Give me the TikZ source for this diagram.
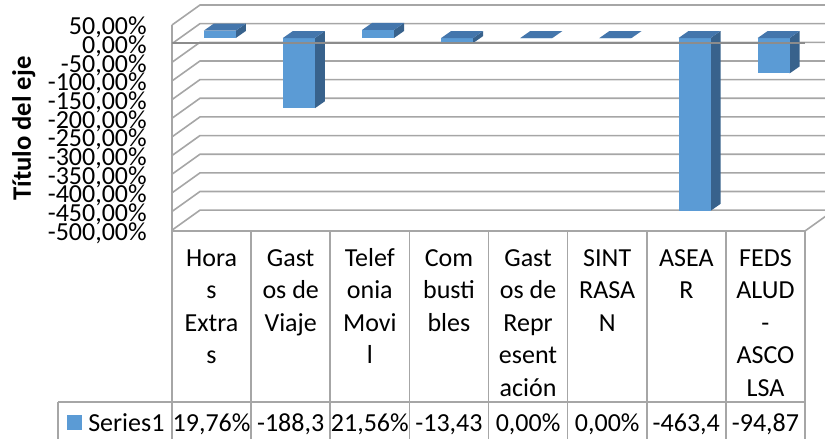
\documentclass[tikz,border=0pt]{standalone}
\usepackage{fontspec}
\setmainfont{Carlito}
\definecolor{gridc}{RGB}{166,166,166}
\definecolor{zeroc}{RGB}{140,140,140}
\definecolor{barfront}{RGB}{91,155,213}
\definecolor{bartop}{RGB}{68,118,172}
\definecolor{barside}{RGB}{56,98,140}
\tikzset{
  gridline/.style={draw=gridc,line width=1.2pt},
  zeroline/.style={draw=zeroc,line width=1.9pt},
  tabline/.style={draw=gridc,line width=1.2pt},
  txt/.style={font=\fontsize{19.5}{23}\selectfont,inner sep=0pt,text=black},
  hdtext/.style={txt,anchor=base},
  axlabel/.style={txt,anchor=base east},
}
\newcommand\colbar[2]{%
  \pgfmathsetmacro\xl{172+79.125*#1+31.8}%
  \pgfmathsetmacro\xr{\xl+32}%
  \pgfmathsetmacro\yv{38-0.373*#2}%
  \pgfmathsetmacro\ytop{min(38,\yv)}%
  \fill[barside] (\xr,38) -- (\xr,\yv) -- ++(10,-7) -- (\xr+10,31) -- cycle;
  \fill[barfront] (\xl,38) rectangle (\xr,\yv);
  \fill[bartop] (\xl,\ytop) -- (\xr,\ytop) -- ++(10,-7) -- ++(-32,0) -- cycle;
}
\newcommand\hd[3]{\node[hdtext] (h#1#2) at ({172+79.125*(#1+0.5)},{266+32.5*#2}) {#3};}
\newcommand\val[2]{\node[hdtext] (v#1) at ({172+79.125*(#1+0.5)},431) {#2};}
\begin{document}
\begin{tikzpicture}[x=0.75pt,y=-0.75pt]
\useasboundingbox (0,0) rectangle (825,439);
\clip (0,0) rectangle (825,439);
% back wall and left wall gridlines
\foreach \k in {0,...,11} {
  \pgfmathsetmacro\yb{5+18.65*\k}
  \draw[gridline] (172,\yb+20) -- (200,\yb) -- (840,\yb);
}
% front-left edge and floor
\draw[gridline] (172,25) -- (172,439);
\draw[gridline] (172,231) -- (805,231) -- (833,211);
% bars
\colbar{0}{19.76}
\colbar{1}{-188.3}
\colbar{2}{21.56}
\colbar{3}{-13.43}
\colbar{4}{0}
\colbar{5}{0}
\colbar{6}{-463.4}
\colbar{7}{-94.87}
% zero line
\draw[zeroline] (172,43) -- (805,43);
% axis labels
\node[axlabel] (a0) at (147,35) {50,00\%};
\node[axlabel] (a1) at (147,53.65) {0,00\%};
\node[axlabel] (a2) at (147,72.3) {-50,00\%};
\node[axlabel] (a3) at (147,90.95) {-100,00\%};
\node[axlabel] (a4) at (147,109.6) {-150,00\%};
\node[axlabel] (a5) at (147,128.25) {-200,00\%};
\node[axlabel] (a6) at (147,146.9) {-250,00\%};
\node[axlabel] (a7) at (147,165.55) {-300,00\%};
\node[axlabel] (a8) at (147,184.2) {-350,00\%};
\node[axlabel] (a9) at (147,202.85) {-400,00\%};
\node[axlabel] (a10) at (147,221.5) {-450,00\%};
\node[axlabel] (a11) at (147,240.15) {-500,00\%};
% axis title
\node[txt,font=\bfseries\fontsize{20}{23}\selectfont,anchor=base,rotate=90] (title) at (31,128.5) {Título del eje};
% table lines
\foreach \i in {1,...,8} {
  \draw[tabline] ({172+79.125*\i},231) -- ({172+79.125*\i},439);
}
\draw[tabline] (58,402) -- (805,402);
\draw[tabline] (58,402) -- (58,439);
% headers
\hd{0}{0}{Hora}\hd{0}{1}{s}\hd{0}{2}{Extra}\hd{0}{3}{s}
\hd{1}{0}{Gast}\hd{1}{1}{os de}\hd{1}{2}{Viaje}
\hd{2}{0}{Telef}\hd{2}{1}{onia}\hd{2}{2}{Movi}\hd{2}{3}{l}
\hd{3}{0}{Com}\hd{3}{1}{busti}\hd{3}{2}{bles}
\hd{4}{0}{Gast}\hd{4}{1}{os de}\hd{4}{2}{Repr}\hd{4}{3}{esent}\hd{4}{4}{ación}
\hd{5}{0}{SINT}\hd{5}{1}{RASA}\hd{5}{2}{N}
\hd{6}{0}{ASEA}\hd{6}{1}{R}
\hd{7}{0}{FEDS}\hd{7}{1}{ALUD}\hd{7}{2}{-}\hd{7}{3}{ASCO}\hd{7}{4}{LSA}
% values
\val{0}{19,76\%}\val{1}{-188,3}\val{2}{21,56\%}\val{3}{-13,43}
\val{4}{0,00\%}\val{5}{0,00\%}\val{6}{-463,4}\val{7}{-94,87}
% legend
\fill[barfront] (67,415) rectangle (82,430);
\node[txt,anchor=base west] (ser) at (88,431) {Series1};
\end{tikzpicture}
\end{document}
